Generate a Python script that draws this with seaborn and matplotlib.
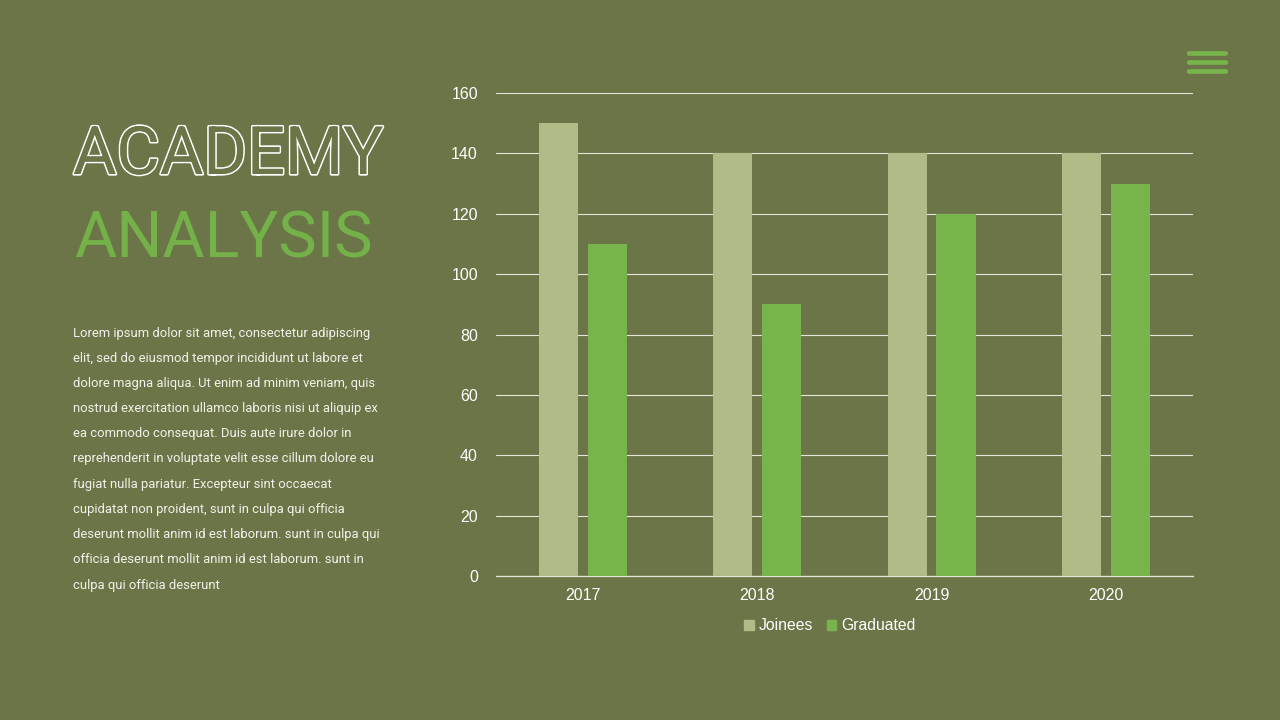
import pandas as pd
import matplotlib.pyplot as plt
import seaborn as sns
from matplotlib import patheffects
from matplotlib.patches import FancyBboxPatch

# Chart data
years = ['2017', '2018', '2019', '2020']
joinees = [150, 140, 140, 140]
graduated = [110, 90, 120, 130]
y_ticks = [0, 20, 40, 60, 80, 100, 120, 140, 160]

BG = '#6b7548'
C_JOIN = '#b0bb88'
C_GRAD = '#77b54c'
TITLE_GREEN = '#74b249'

df = pd.DataFrame({
    'Year': years * 2,
    'Value': joinees + graduated,
    'Series': ['Joinees'] * 4 + ['Graduated'] * 4,
})

sns.set_style("white")
plt.rcParams['font.family'] = ['Liberation Sans', 'DejaVu Sans']

fig = plt.figure(figsize=(12.8, 7.2), dpi=100)
fig.patch.set_facecolor(BG)

ax = fig.add_axes([0.3875, 0.2, 0.5445, 0.6708])
ax.set_facecolor(BG)
sns.barplot(data=df, x='Year', y='Value', hue='Series',
            palette=[C_JOIN, C_GRAD], width=0.56, gap=0.2,
            saturation=1, ax=ax, legend=False, zorder=3,
            linewidth=0, edgecolor='none')

ax.set_ylim(0, 160)
ax.set_xlim(-0.5, 3.5)
ax.set_yticks(y_ticks)
ax.yaxis.grid(True, color='#e3e6d8', linewidth=0.8, zorder=0)
ax.set_axisbelow(True)
for side in ['top', 'right', 'left']:
    ax.spines[side].set_visible(False)
ax.spines['bottom'].set_color('#e3e6d8')
ax.spines['bottom'].set_linewidth(0.9)
ax.tick_params(axis='both', length=0, colors='white', labelsize=11.5)
ax.tick_params(axis='y', pad=13)
ax.tick_params(axis='x', pad=9)
ax.set_xlabel('')
ax.set_ylabel('')

# Legend below the chart
handles = [plt.Rectangle((0, 0), 1, 1, color=C_JOIN),
           plt.Rectangle((0, 0), 1, 1, color=C_GRAD)]
leg = fig.legend(handles, ['Joinees', 'Graduated'], loc='center',
                 bbox_to_anchor=(830 / 1280, 1 - 626 / 720), ncol=2,
                 frameon=False, handlelength=0.6, handleheight=0.6,
                 handletextpad=0.3, columnspacing=0.9, fontsize=11.3)
for t in leg.get_texts():
    t.set_color('white')

# Title
fig.text(73 / 1280, 1 - 156 / 720, 'ACADEMY', fontsize=48, family='Roboto',
         fontweight='normal', color=BG, va='center', ha='left',
         path_effects=[patheffects.withStroke(linewidth=2.4, foreground='white'),
                       patheffects.Normal()])
fig.text(74 / 1280, 1 - 240 / 720, 'ANALYSIS', fontsize=46.5, family='Roboto',
         fontweight='normal', color=TITLE_GREEN, va='center', ha='left')

# Body text
lines = [
    'Lorem ipsum dolor sit amet, consectetur adipiscing',
    'elit, sed do eiusmod tempor incididunt ut labore et',
    'dolore magna aliqua. Ut enim ad minim veniam, quis',
    'nostrud exercitation ullamco laboris nisi ut aliquip ex',
    'ea commodo consequat. Duis aute irure dolor in',
    'reprehenderit in voluptate velit esse cillum dolore eu',
    'fugiat nulla pariatur. Excepteur sint occaecat',
    'cupidatat non proident, sunt in culpa qui officia',
    'deserunt mollit anim id est laborum. sunt in culpa qui',
    'officia deserunt mollit anim id est laborum. sunt in',
    'culpa qui officia deserunt',
]
for i, line in enumerate(lines):
    fig.text(73 / 1280, 1 - (333 + i * 25.2) / 720, line, fontsize=9.4,
             family='Roboto', color='#f2f2ea', va='center', ha='left')

# Menu icon top right
for yc in [53.5, 62.5, 71.5]:
    fig.patches.append(FancyBboxPatch(
        (1187 / 1280, 1 - (yc + 2.3) / 720), 41 / 1280, 4.6 / 720,
        boxstyle='round,pad=0,rounding_size=0.002', transform=fig.transFigure,
        facecolor=C_GRAD, edgecolor='none'))

plt.savefig('out.png', dpi=100, facecolor=BG)
